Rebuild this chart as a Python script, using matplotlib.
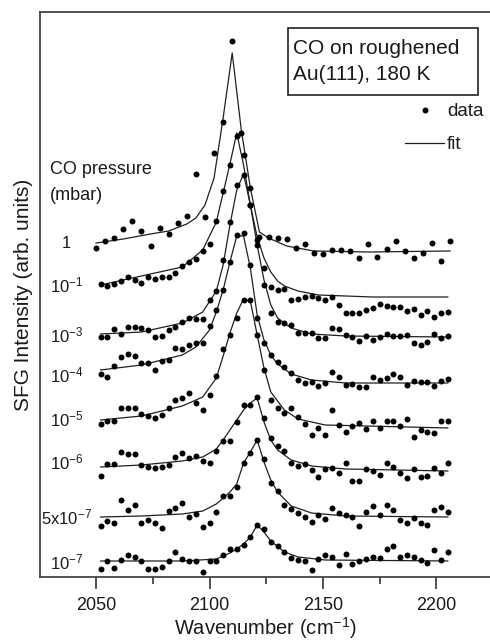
import numpy as np
import matplotlib.pyplot as plt
from matplotlib.patches import Rectangle

plt.rcParams['font.family'] = ['Liberation Sans', 'DejaVu Sans']
plt.rcParams['mathtext.default'] = 'regular'

# wavenumber grids (cm-1)
wn_4 = np.arange(2050, 2207, 4)   # 1 mbar spectrum
wn_3 = np.arange(2052, 2206, 3)   # all other spectra

# SFG data, already offset (arb. units)
d_1 = [329, 336, 339, 348, 356, 346, 331, 349, 343, 354, 361, 403, 360, 424, 455, 536,
       444, 389, 340, 340, 339, 338, 329, 333, 324, 323, 327, 327, 326, 319, 333, 320,
       328, 336, 326, 319, 324, 334, 316, 336]
d_1e1 = [293, 291, 293, 296, 300, 297, 294, 300, 298, 300, 300, 304, 311, 315, 318, 326,
         333, 356, 386, 412, 441, 422, 372, 337, 309, 290, 287, 288, 277, 278, 280, 281,
         279, 277, 280, 272, 264, 264, 264, 267, 269, 273, 271, 270, 270, 266, 268, 262,
         266, 260, 264, 265]
d_1e3 = [240, 240, 248, 243, 250, 250, 249, 247, 240, 241, 247, 250, 255, 259, 258, 258,
         277, 286, 317, 355, 392, 402, 372, 332, 292, 264, 255, 254, 252, 244, 244, 244,
         239, 239, 249, 248, 242, 240, 236, 241, 237, 240, 243, 241, 241, 242, 234, 232,
         235, 243, 239, 241]
d_1e4 = [203, 200, 211, 220, 223, 221, 214, 214, 207, 216, 217, 229, 228, 232, 234, 234,
         251, 267, 287, 315, 342, 344, 312, 259, 234, 222, 215, 210, 204, 197, 194, 195,
         191, 194, 205, 200, 192, 193, 190, 190, 200, 197, 199, 203, 200, 192, 196, 195,
         195, 191, 196, 198]
d_1e5 = [153, 156, 156, 169, 169, 169, 163, 161, 159, 162, 169, 177, 179, 184, 174, 167,
         182, 201, 228, 242, 259, 277, 277, 242, 207, 177, 169, 164, 169, 160, 153, 142,
         149, 142, 167, 152, 145, 151, 154, 148, 156, 149, 156, 156, 151, 158, 140, 147,
         145, 144, 156, 156]
d_1e6 = [101, 113, 113, 125, 123, 123, 112, 110, 109, 110, 112, 120, 124, 119, 121, 116,
         114, 126, 136, 136, 155, 172, 172, 180, 159, 139, 131, 126, 114, 111, 113, 107,
         100, 108, 109, 104, 114, 96, 96, 108, 106, 102, 114, 110, 104, 99, 108, 100,
         101, 109, 104, 114]
d_5e7 = [51, 56, 54, 77, 67, 72, 54, 57, 54, 49, 66, 69, 74, 60, 63, 50,
         54, 65, 81, 81, 90, 114, 124, 137, 118, 94, 86, 72, 68, 64, 60, 55,
         62, 58, 69, 64, 62, 60, 51, 65, 71, 62, 72, 67, 57, 54, 59, 54,
         52, 67, 70, 65]
d_1e7 = [8, 16, 9, 17, 22, 20, 16, 8, 8, 10, 16, 25, 18, 16, 16, 5,
         16, 16, 22, 28, 28, 32, 40, 52, 48, 35, 31, 25, 19, 17, 16, 7,
         18, 22, 20, 12, 23, 13, 16, 18, 20, 19, 28, 31, 20, 22, 20, 17,
         14, 27, 17, 25]

# fit curves
f_1_wn = [2050, 2062, 2074, 2082, 2090, 2094, 2098, 2102, 2106, 2110, 2114, 2118, 2122,
          2126, 2134, 2146, 2170, 2206]
f_1 = [334, 338, 343, 346, 353, 359, 372, 399, 459, 524, 447, 389, 345, 339, 331, 326, 325, 326]
f_1e1_wn = [2052, 2070, 2088, 2097, 2103, 2106, 2109, 2112, 2115, 2118, 2121, 2124, 2127,
            2130, 2133, 2139, 2148, 2172, 2205]
f_1e1 = [292, 301, 310, 327, 355, 384, 413, 444, 412, 372, 340, 319, 305, 296, 291, 286, 282, 280, 280]
f_1e3_wn = [2052, 2070, 2088, 2097, 2103, 2106, 2109, 2112, 2115, 2118, 2121, 2124, 2127,
            2130, 2136, 2145, 2160, 2205]
f_1e3 = [243, 245, 254, 265, 286, 312, 352, 387, 403, 372, 332, 297, 272, 259, 249, 243, 241, 240]
f_1e4_wn = [2052, 2070, 2088, 2094, 2100, 2103, 2106, 2109, 2112, 2115, 2118, 2121, 2124,
            2127, 2130, 2136, 2145, 2160, 2205]
f_1e4 = [207, 212, 222, 230, 247, 265, 287, 315, 341, 341, 309, 262, 237, 222, 213, 203, 197, 194, 194]
f_1e5_wn = [2052, 2070, 2088, 2097, 2103, 2106, 2109, 2112, 2115, 2118, 2121, 2124, 2127,
            2133, 2139, 2151, 2205]
f_1e5 = [157, 161, 171, 180, 199, 221, 244, 264, 278, 276, 242, 209, 185, 167, 158, 152, 149]
f_1e6_wn = [2052, 2070, 2088, 2097, 2103, 2106, 2109, 2112, 2115, 2118, 2121, 2124, 2127,
            2130, 2136, 2145, 2160, 2205]
f_1e6 = [110, 112, 116, 120, 128, 137, 147, 157, 167, 174, 179, 155, 137, 127, 117, 111, 108, 106]
f_5e7_wn = f_1e6_wn
f_5e7 = [60, 61, 63, 66, 73, 79, 85, 93, 114, 125, 137, 115, 97, 85, 71, 64, 61, 60]
f_1e7_wn = [2052, 2088, 2103, 2109, 2112, 2115, 2118, 2121, 2124, 2127, 2133, 2139, 2151, 2205]
f_1e7 = [16, 16, 18, 24, 28, 33, 40, 52, 45, 36, 25, 20, 17, 16]

labels = ['1', '10$^{-1}$', '10$^{-3}$', '10$^{-4}$', '10$^{-5}$', '10$^{-6}$',
          '5x10$^{-7}$', '10$^{-7}$']
label_y = [334, 292, 242, 202, 158, 115, 60, 15]

data_x = [wn_4] + [wn_3] * 7
data_y = [d_1, d_1e1, d_1e3, d_1e4, d_1e5, d_1e6, d_5e7, d_1e7]
fit_x = [f_1_wn, f_1e1_wn, f_1e3_wn, f_1e4_wn, f_1e5_wn, f_1e6_wn, f_5e7_wn, f_1e7_wn]
fit_y = [f_1, f_1e1, f_1e3, f_1e4, f_1e5, f_1e6, f_5e7, f_1e7]

W, H = 490, 644
fig = plt.figure(figsize=(W / 100, H / 100), dpi=100)
ax = fig.add_axes([40 / W, 67 / H, 450 / W, 565 / H])

tc = '#1a1a1a'
for k in range(8):
    ax.plot(fit_x[k], fit_y[k], color='#202020', lw=0.9,
            label='fit' if k == 0 else None, zorder=2)
    ax.plot(data_x[k], data_y[k], 'o', color='black', ms=4.3, mew=0,
            label='data' if k == 0 else None, zorder=3)
    ax.text(2037, label_y[k], labels[k], ha='center', va='center', fontsize=12, color=tc)

ax.set_xlim(2025.3, 2223.6)
ax.set_ylim(0, 565)
ax.set_yticks([])
ax.set_xticks([2050, 2100, 2150, 2200])
ax.set_xticks([2075, 2125, 2175], minor=True)
ax.tick_params(axis='x', which='major', direction='out', length=8.5, width=1.2,
               labelsize=13, pad=6, colors='#333333', labelcolor=tc)
ax.tick_params(axis='x', which='minor', direction='out', length=5, width=1.2, colors='#333333')
for s in ['left', 'top', 'bottom']:
    ax.spines[s].set_color('#444444')
    ax.spines[s].set_linewidth(1.3)
ax.spines['right'].set_visible(False)

ax.set_xlabel('Wavenumber (cm$^{-1}$)', fontsize=14.5, color=tc, labelpad=1)
ax.set_ylabel('SFG Intensity (arb. units)', fontsize=15, color=tc, labelpad=5)

fig.text(50 / W, 1 - 170 / H, 'CO pressure', fontsize=13, color=tc, va='center')
fig.text(50 / W, 1 - 196 / H, '(mbar)', fontsize=13, color=tc, va='center')

fig.add_artist(Rectangle((288 / W, 1 - 95 / H), 190 / W, 67 / H, transform=fig.transFigure,
                         fill=False, ec='#222222', lw=1.2))
fig.text(293 / W, 1 - 48 / H, 'CO on roughened', fontsize=15, color=tc, va='center')
fig.text(293 / W, 1 - 75 / H, 'Au(111), 180 K', fontsize=15, color=tc, va='center')

h, l = ax.get_legend_handles_labels()
order = [l.index('data'), l.index('fit')]
ax.legend([h[i] for i in order], [l[i] for i in order], loc='upper left',
          bbox_to_anchor=(405 / W, 1 - 103 / H), bbox_transform=fig.transFigure,
          frameon=False, fontsize=13.5, borderpad=0, borderaxespad=0,
          handlelength=2.1, handletextpad=0.15, labelspacing=0.85, labelcolor=tc)

plt.savefig('out.png', dpi=100)
